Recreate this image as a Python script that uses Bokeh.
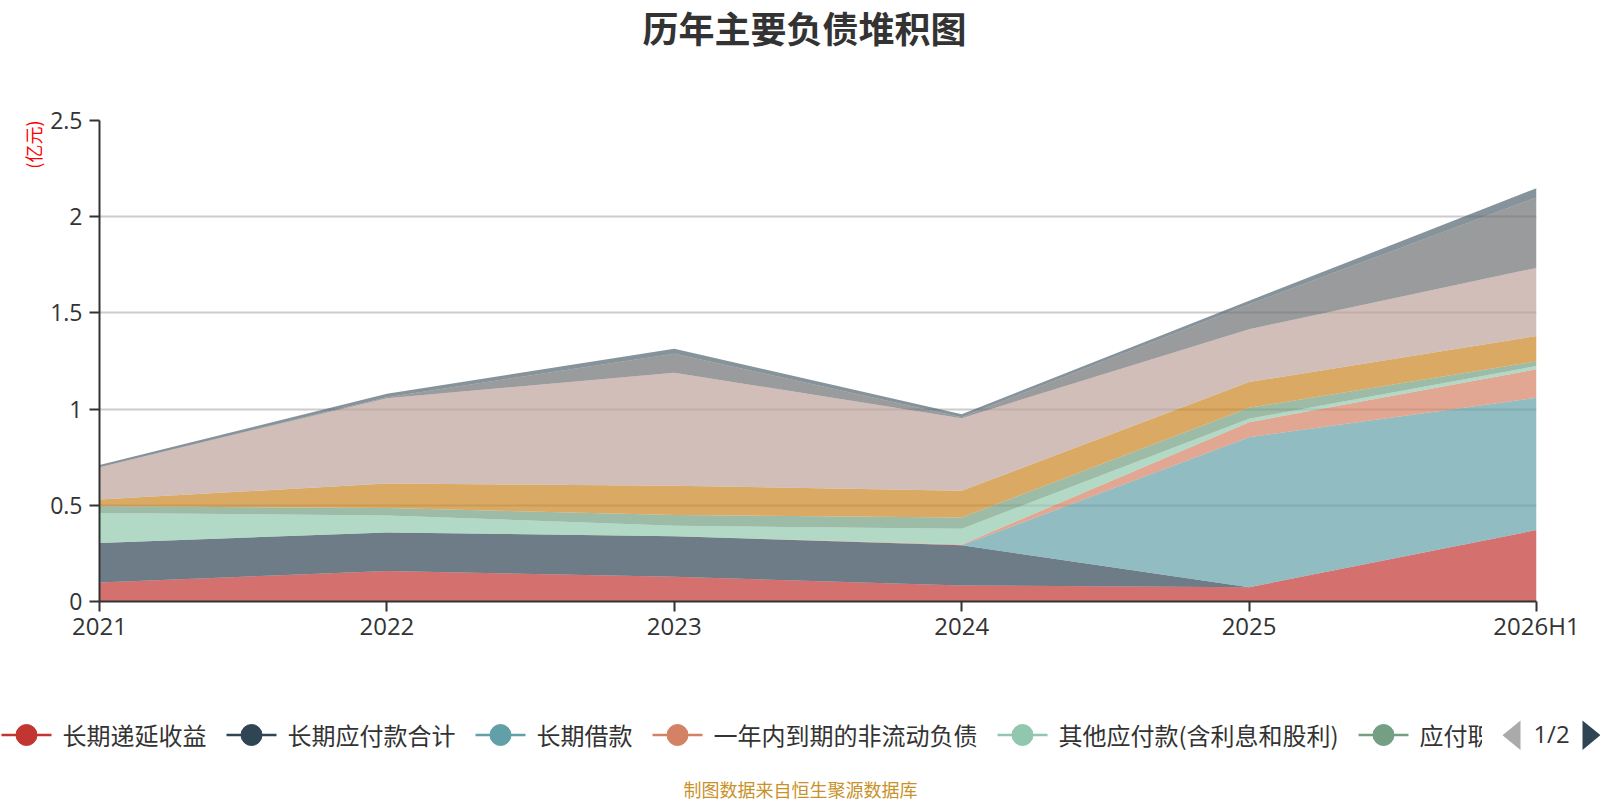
from bokeh.plotting import figure
from bokeh.models import (ColumnDataSource, Range1d, FixedTicker,
                          CustomJSTickFormatter, Title)
from bokeh.layouts import column, row
from bokeh.core.properties import value
from bokeh.embed import file_html
from bokeh.resources import INLINE

# ---------------- data (亿元) ----------------
categories = ["2021", "2022", "2023", "2024", "2025", "2026H1"]

long_deferred_income = [0.099, 0.158, 0.128, 0.083, 0.074, 0.371]   # 长期递延收益
long_payables_total = [0.205, 0.201, 0.211, 0.209, 0.0, 0.0]        # 长期应付款合计
long_term_loans = [0.0, 0.0, 0.0, 0.0, 0.780, 0.688]                # 长期借款
current_noncurrent_due = [0.0, 0.0, 0.0, 0.004, 0.078, 0.148]       # 一年内到期的非流动负债
other_payables = [0.156, 0.088, 0.055, 0.082, 0.018, 0.017]         # 其他应付款(含利息和股利)
payroll_payable = [0.035, 0.039, 0.056, 0.058, 0.057, 0.024]        # 应付职工薪酬
taxes_payable = [0.035, 0.127, 0.152, 0.139, 0.134, 0.132]          # 应交税费
accounts_payable = [0.168, 0.444, 0.587, 0.378, 0.274, 0.354]       # 应付账款
short_term_loans = [0.0, 0.005, 0.099, 0.005, 0.130, 0.366]         # 短期借款
contract_liabilities = [0.012, 0.018, 0.026, 0.015, 0.018, 0.048]   # 合同负债

series_names = ["长期递延收益", "长期应付款合计", "长期借款", "一年内到期的非流动负债",
                "其他应付款(含利息和股利)", "应付职工薪酬", "应交税费", "应付账款",
                "短期借款", "合同负债"]
series_values = [long_deferred_income, long_payables_total, long_term_loans,
                 current_noncurrent_due, other_payables, payroll_payable,
                 taxes_payable, accounts_payable, short_term_loans, contract_liabilities]
colors = ["#c23531", "#2f4554", "#61a0a8", "#d48265", "#91c7ae",
          "#749f83", "#ca8622", "#bda29a", "#6e7074", "#546570"]

y_ticks = [0, 0.5, 1, 1.5, 2, 2.5]

title_text = "历年主要负债堆积图"
unit_text = "(亿元)"
footer_text = "制图数据来自恒生聚源数据库"
pager_text = "1/2"
legend_page_size = 6

CJK = "Noto Sans CJK SC"
NUM = "Open Sans"

W = 1600
TOP_H = 64
MAIN_H = 620
BOT_H = 800 - TOP_H - MAIN_H


def blank(width, height, x0, x1, y_top, y_bottom):
    f = figure(width=width, height=height, output_backend="svg",
               toolbar_location=None, x_range=Range1d(x0, x1),
               y_range=Range1d(y_bottom, y_top), x_axis_type=None,
               y_axis_type=None, min_border=0, min_border_left=0,
               min_border_right=0, min_border_top=0, min_border_bottom=0)
    f.outline_line_color = None
    f.xgrid.visible = False
    f.ygrid.visible = False
    return f


# ---------------- title strip ----------------
top = blank(W, TOP_H, 0, W, 0, TOP_H)
top.text(x=[785], y=[26], text=[title_text], text_font=value(CJK),
         text_font_size="36px", text_font_style="bold", text_color="#333333",
         text_align="center", text_baseline="middle")

# ---------------- main chart ----------------
data = {"x": list(range(len(categories)))}
for n, v in zip(series_names, series_values):
    data[n] = v
source = ColumnDataSource(data=data)

p = figure(width=W, height=MAIN_H, output_backend="svg", toolbar_location=None,
           x_range=Range1d(0, len(categories) - 1), y_range=Range1d(0, 2.5),
           min_border_left=99, min_border_right=64, min_border_top=56,
           min_border_bottom=83)
p.outline_line_color = None
p.background_fill_color = "white"

p.varea_stack(stackers=series_names, x="x", color=colors, fill_alpha=0.7,
              source=source)

for ax in (p.xaxis[0], p.yaxis[0]):
    ax.axis_line_color = "#333333"
    ax.axis_line_width = 2
    ax.major_tick_line_color = "#333333"
    ax.major_tick_line_width = 2
    ax.major_tick_out = 10
    ax.major_tick_in = 0
    ax.minor_tick_line_color = None
    ax.major_label_text_font = NUM
    ax.major_label_text_color = "#333333"

p.xaxis.major_label_text_font_size = "24px"
p.yaxis.major_label_text_font_size = "23px"
p.xaxis.ticker = FixedTicker(ticks=list(range(len(categories))))
p.xaxis.formatter = CustomJSTickFormatter(args=dict(labels=categories),
                                          code="return labels[Math.round(tick)] || '';")
p.xaxis.major_label_standoff = -3
p.yaxis.ticker = FixedTicker(ticks=y_ticks)
p.yaxis.formatter = CustomJSTickFormatter(code="return String(tick);")
p.yaxis.major_label_standoff = 7

p.xgrid.visible = False
p.ygrid.ticker = FixedTicker(ticks=y_ticks)
p.ygrid.grid_line_color = "#cccccc"
p.ygrid.grid_line_width = 2

unit = Title(text=unit_text, align="right", text_font=CJK,
             text_font_size="18px", text_font_style="normal",
             text_color="#ff0000", standoff=3)
p.add_layout(unit, "left")

# ---------------- legend (page 1) + footer ----------------
LEG_RIGHT = 1482
Y0 = TOP_H + MAIN_H
leg = blank(LEG_RIGHT, BOT_H, 0, LEG_RIGHT, Y0, 800)

icon_left = [1, 226, 475, 652, 997, 1358]
leg_y = 734.5
page_names = series_names[:legend_page_size]
page_colors = colors[:legend_page_size]
leg_src = ColumnDataSource(data=dict(
    x0=[a for a in icon_left], x1=[a + 50 for a in icon_left],
    xc=[a + 25 for a in icon_left], xt=[a + 61 for a in icon_left],
    y=[leg_y] * legend_page_size, yt=[leg_y - 1] * legend_page_size,
    name=page_names, color=page_colors))
leg.segment(x0="x0", x1="x1", y0="y", y1="y", line_color="color",
            line_width=2.5, source=leg_src)
leg.scatter(x="xc", y="y", size=21, fill_color="color", line_color="color",
            source=leg_src)
leg.text(x="xt", y="yt", text="name", text_font=value(CJK),
         text_font_size="24px", text_color="#333333", text_align="left",
         text_baseline="middle", source=leg_src)
leg.text(x=[800], y=[788], text=[footer_text], text_font=value(CJK),
         text_font_size="18px", text_color="#c8922a", text_align="center",
         text_baseline="middle")

# pager
pg = blank(W - LEG_RIGHT, BOT_H, LEG_RIGHT, W, Y0, 800)
pg.patches(xs=[[1520, 1520, 1502], [1582, 1582, 1600]],
           ys=[[720, 749.5, 734.7], [720, 749.5, 734.7]],
           fill_color=["#aaaaaa", "#2f4554"], line_color=None)
pg.text(x=[1551], y=[733], text=[pager_text], text_font=value(NUM),
        text_font_size="24px", text_color="#333333", text_align="center",
        text_baseline="middle")

layout = column(top, p, row(leg, pg, spacing=0), spacing=0)

with open("out.html", "w") as f:
    f.write(file_html(layout, INLINE))
